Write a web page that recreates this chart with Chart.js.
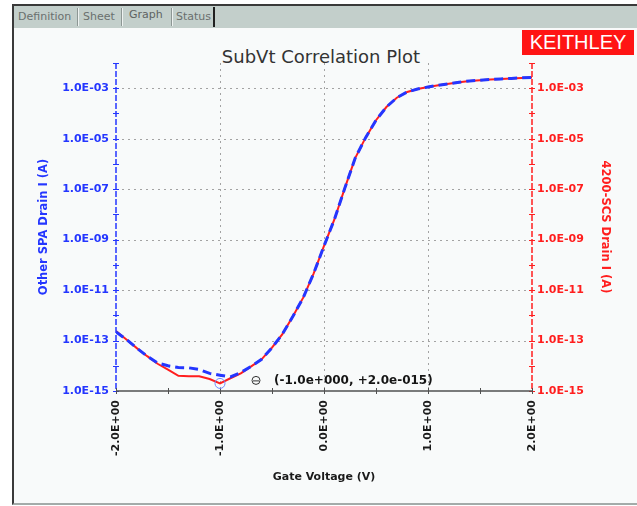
<!DOCTYPE html>
<html>
<head>
<meta charset="utf-8">
<script src="https://cdn.jsdelivr.net/npm/chart.js@4.4.0/dist/chart.umd.min.js"></script>
<style>
  html, body { margin: 0; padding: 0; width: 637px; height: 506px; overflow: hidden; background: #ffffff; }
  #frame { position: absolute; left: 12px; top: 4px; width: 623px; height: 497px;
           border-left: 2px solid #3a3a3a; border-top: 2px solid #3a3a3a; border-bottom: 2px solid #a3aba9;
           background: #f8fafa; }
  #tabstrip { position: absolute; left: 14px; top: 6px; width: 623px; height: 22px; background: #c3cfcb; }
  .tab { position: absolute; top: 10px; font: 11px 'DejaVu Sans', sans-serif; color: #6a6f6e; line-height: 14px; white-space: nowrap; }
  .tab.sel { top: 8px; color: #5e6362; }
  .sep { position: absolute; top: 8px; width: 1px; height: 18px; background: #8d9794; border-right: 1px solid #eef2f1; }
  .sep.dark { background: #202020; border-right: none; width: 2px; top: 7px; height: 20px; }
  #title { position: absolute; left: 171px; width: 300px; top: 46px; height: 20px; line-height: 20px; text-align: center;
           font: 18px 'DejaVu Sans', sans-serif; color: #333333; }
  #logo { position: absolute; left: 522px; top: 30px; width: 112px; height: 25px; background: #ff1414;
          color: #ffffff; font: 20px 'Liberation Sans', Arial, sans-serif; line-height: 25px; text-align: center; }
  #chart { position: absolute; left: 0; top: 0; }
</style>
</head>
<body>
<div id="frame"></div>
<div id="tabstrip"></div>
<div class="tab" style="left:18px">Definition</div>
<div class="sep" style="left:77px"></div>
<div class="tab" style="left:83px">Sheet</div>
<div class="sep" style="left:121px"></div>
<div class="tab sel" style="left:129px">Graph</div>
<div class="sep" style="left:171px"></div>
<div class="tab" style="left:176px">Status</div>
<div class="sep dark" style="left:213px"></div>
<div id="title">SubVt Correlation Plot</div>
<div id="logo">KEITHLEY</div>
<canvas id="chart" width="637" height="506"></canvas>
<script>
// Gate sweep (V)
const gateVoltage = [
  -2.0, -1.9, -1.8, -1.7, -1.6, -1.5, -1.4, -1.3, -1.2, -1.1,
  -1.0, -0.9, -0.8, -0.7, -0.6, -0.5, -0.4, -0.3, -0.2, -0.1,
   0.0,  0.1,  0.2,  0.3,  0.4,  0.5,  0.6,  0.7,  0.8,  0.9,
   1.0,  1.1,  1.2,  1.3,  1.4,  1.5,  1.6,  1.7,  1.8,  1.9, 2.0
];
// 4200-SCS drain current (A)
const scsDrainCurrent = [
  2.4e-13, 1.1e-13, 5.0e-14, 2.4e-14, 1.2e-14, 7.1e-15, 4.0e-15, 3.8e-15, 3.8e-15, 3.0e-15,
  2.0e-15, 3.2e-15, 5.0e-15, 9.5e-15, 1.8e-14, 5.2e-14, 1.8e-13, 8.9e-13, 5.0e-12, 4.5e-11,
  5.6e-10, 6.3e-9,  1.1e-7,  1.7e-6,  1.1e-5,  5.4e-5,  1.8e-4,  4.2e-4,  7.1e-4,  9.3e-4,
  1.12e-3, 1.32e-3, 1.51e-3, 1.74e-3, 1.95e-3, 2.09e-3, 2.24e-3, 2.34e-3, 2.45e-3, 2.57e-3, 2.69e-3
];
// Other SPA drain current (A)
const spaDrainCurrent = [
  2.2e-13, 1.1e-13, 5.0e-14, 2.4e-14, 1.3e-14, 1.0e-14, 8.5e-15, 8.3e-15, 7.1e-15, 5.0e-15,
  4.2e-15, 3.6e-15, 5.4e-15, 9.5e-15, 1.8e-14, 5.2e-14, 1.8e-13, 8.9e-13, 5.0e-12, 4.5e-11,
  5.6e-10, 6.3e-9,  1.1e-7,  1.7e-6,  1.1e-5,  5.4e-5,  1.8e-4,  4.2e-4,  7.1e-4,  9.3e-4,
  1.12e-3, 1.32e-3, 1.51e-3, 1.74e-3, 1.95e-3, 2.09e-3, 2.24e-3, 2.34e-3, 2.45e-3, 2.57e-3, 2.69e-3
];
const xTickLabels = ['-2.0E+00', '-1.0E+00', '0.0E+00', '1.0E+00', '2.0E+00'];
const yTickLabels = ['1.0E-15', '1.0E-13', '1.0E-11', '1.0E-09', '1.0E-07', '1.0E-05', '1.0E-03'];
const yDecadeExponents = [-15, -14, -13, -12, -11, -10, -9, -8, -7, -6, -5, -4, -3, -2];
const xMinorStep = 0.5;
// Cursor readout
const cursorVoltage = -1.0;
const cursorCurrent = 2.0e-15;

const BLUE = '#2436ff';
const RED = '#ff1e1e';
const FONT = "'DejaVu Sans', sans-serif";

const decadeValues = yDecadeExponents.map(e => Number('1e' + e));
const xTickValues = xTickLabels.map(parseFloat);

function yLabelFor(v) {
  const hit = yTickLabels.find(l => Math.abs(Math.log10(parseFloat(l)) - Math.log10(v)) < 1e-6);
  return hit || '';
}
function xLabelFor(v) {
  const i = xTickValues.findIndex(t => Math.abs(t - v) < 1e-9);
  return i >= 0 ? xTickLabels[i] : '';
}
function sciReadout(v) {
  const sign = v < 0 ? '-' : '+';
  const a = Math.abs(v);
  let e = a === 0 ? 0 : Math.floor(Math.log10(a));
  let m = a === 0 ? 0 : a / Math.pow(10, e);
  if (m >= 9.95) { m /= 10; e += 1; }
  return sign + m.toFixed(1) + 'e' + (e < 0 ? '-' : '+') + String(Math.abs(e)).padStart(3, '0');
}

function seg(ctx, x1, y1, x2, y2) {
  ctx.beginPath(); ctx.moveTo(x1, y1); ctx.lineTo(x2, y2); ctx.stroke();
}

// Dotted grid, axis lines with tick marks, and cursor readout
const plotDecor = {
  id: 'plotDecor',
  beforeDatasetsDraw(chart) {
    const { ctx, chartArea: a, scales: { x, y } } = chart;
    ctx.save();
    ctx.strokeStyle = '#a3a3a3';
    ctx.lineWidth = 1;
    ctx.setLineDash([2, 4]);
    yTickLabels.forEach(l => {
      const v = parseFloat(l);
      if (v <= y.min * 1.0001) return;
      const py = Math.round(y.getPixelForValue(v)) + 0.5;
      seg(ctx, a.left, py, a.right, py);
    });
    xTickValues.forEach(v => {
      if (v <= x.min || v >= x.max) return;
      const px = Math.round(x.getPixelForValue(v)) + 0.5;
      seg(ctx, px, a.top, px, a.bottom);
    });
    ctx.restore();
  },
  afterDatasetsDraw(chart) {
    const { ctx, chartArea: a, scales: { x, y, y2 } } = chart;
    ctx.save();
    // left axis (Other SPA)
    ctx.lineWidth = 1.5;
    ctx.strokeStyle = BLUE;
    ctx.setLineDash([6, 2]);
    seg(ctx, a.left, a.top, a.left, a.bottom);
    ctx.setLineDash([]);
    ctx.lineWidth = 1;
    decadeValues.forEach(v => {
      const py = Math.round(y.getPixelForValue(v)) + 0.5;
      seg(ctx, a.left - 3, py, a.left + 3, py);
    });
    // right axis (4200-SCS)
    ctx.lineWidth = 1.5;
    ctx.strokeStyle = RED;
    ctx.setLineDash([6, 2]);
    seg(ctx, a.right, a.top, a.right, a.bottom);
    ctx.setLineDash([]);
    ctx.lineWidth = 1;
    decadeValues.forEach(v => {
      const py = Math.round(y2.getPixelForValue(v)) + 0.5;
      seg(ctx, a.right - 3, py, a.right + 3, py);
    });
    // bottom axis
    ctx.strokeStyle = '#505050';
    ctx.lineWidth = 1.5;
    seg(ctx, a.left, a.bottom, a.right, a.bottom);
    ctx.lineWidth = 1;
    for (let v = x.min; v <= x.max + 1e-9; v += xMinorStep) {
      const px = Math.round(x.getPixelForValue(v)) + 0.5;
      seg(ctx, px, a.bottom - 3, px, a.bottom + 3);
    }
    // cursor marker and readout
    const cx = x.getPixelForValue(cursorVoltage);
    const cy = y2.getPixelForValue(cursorCurrent);
    ctx.strokeStyle = '#6f88ff';
    ctx.lineWidth = 1;
    ctx.beginPath(); ctx.arc(cx, cy, 5, 0, Math.PI * 2); ctx.stroke();
    const sx = cx + 36, sy = cy - 3;
    ctx.strokeStyle = '#333333';
    ctx.beginPath(); ctx.arc(sx, sy, 4, 0, Math.PI * 2); ctx.stroke();
    seg(ctx, sx - 3, sy + 0.5, sx + 3, sy + 0.5);
    ctx.fillStyle = '#151515';
    ctx.font = 'bold 12px ' + FONT;
    ctx.textAlign = 'left';
    ctx.textBaseline = 'middle';
    ctx.fillText('(' + sciReadout(cursorVoltage) + ', ' + sciReadout(cursorCurrent) + ')', cx + 54, sy);
    ctx.restore();
  }
};

const tickFont = { family: FONT, size: 11, weight: 'bold' };
const axisTitleFont = { family: FONT, size: 11.5, weight: 'bold' };

new Chart(document.getElementById('chart'), {
  type: 'line',
  data: {
    datasets: [
      {
        label: 'Other SPA Drain I (A)',
        data: gateVoltage.map((v, i) => ({ x: v, y: spaDrainCurrent[i] })),
        borderColor: BLUE, borderWidth: 3, borderDash: [9, 5],
        pointRadius: 0, tension: 0, fill: false, xAxisID: 'x', yAxisID: 'y'
      },
      {
        label: '4200-SCS Drain I (A)',
        data: gateVoltage.map((v, i) => ({ x: v, y: scsDrainCurrent[i] })),
        borderColor: RED, borderWidth: 2,
        pointRadius: 0, tension: 0, fill: false, xAxisID: 'x', yAxisID: 'y2'
      }
    ]
  },
  options: {
    responsive: false,
    animation: false,
    devicePixelRatio: 1,
    layout: { padding: { top: 63, left: 0, right: 0, bottom: 0 } },
    plugins: { legend: { display: false }, tooltip: { enabled: false }, title: { display: false } },
    scales: {
      x: {
        type: 'linear', position: 'bottom', min: -2, max: 2,
        grid: { display: false, drawTicks: false }, border: { display: false },
        afterBuildTicks: s => { s.ticks = xTickValues.map(v => ({ value: v })); },
        afterFit: s => { s.height = 115; },
        ticks: { color: '#1a1a1a', font: tickFont, padding: 9, minRotation: 90, maxRotation: 90, autoSkip: false,
                 callback: v => xLabelFor(v) },
        title: { display: true, text: 'Gate Voltage (V)', color: '#1a1a1a', font: tickFont, padding: { top: 0, bottom: 22 } }
      },
      y: {
        type: 'logarithmic', position: 'left', min: 1e-15, max: 1e-2,
        grid: { display: false, drawTicks: false }, border: { display: false },
        afterBuildTicks: s => { s.ticks = decadeValues.map(v => ({ value: v })); },
        afterFit: s => { s.width = 116; },
        ticks: { color: BLUE, font: tickFont, padding: 7, autoSkip: false, callback: v => yLabelFor(v) },
        title: { display: true, text: 'Other SPA Drain I (A)', color: BLUE, font: axisTitleFont, padding: { top: 37, bottom: 0 } }
      },
      y2: {
        type: 'logarithmic', position: 'right', min: 1e-15, max: 1e-2,
        grid: { display: false, drawTicks: false }, border: { display: false },
        afterBuildTicks: s => { s.ticks = decadeValues.map(v => ({ value: v })); },
        afterFit: s => { s.width = 105; },
        ticks: { color: RED, font: tickFont, padding: 5, autoSkip: false, callback: v => yLabelFor(v) },
        title: { display: true, text: '4200-SCS Drain I (A)', color: RED, font: axisTitleFont, padding: { top: 25, bottom: 0 } }
      }
    }
  },
  plugins: [plotDecor]
});
</script>
</body>
</html>
